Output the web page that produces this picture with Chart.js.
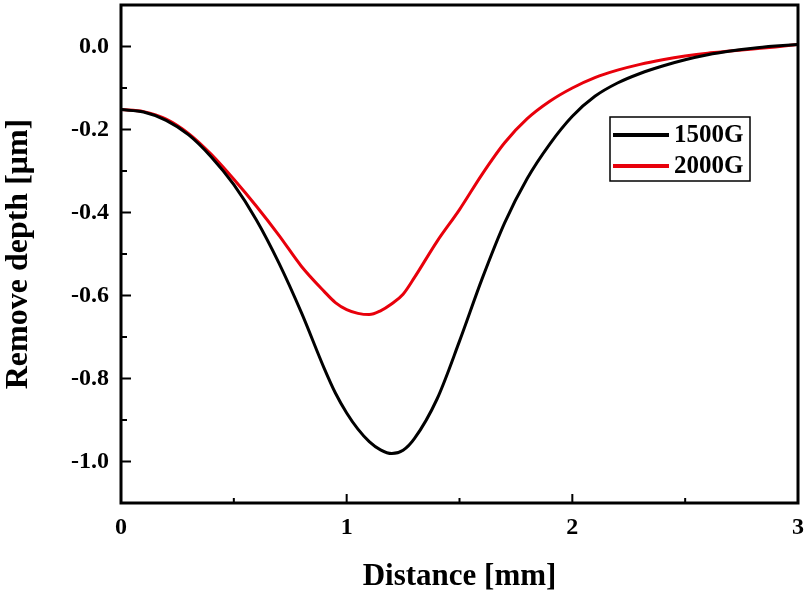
<!DOCTYPE html>
<html>
<head>
<meta charset="utf-8">
<script src="https://cdn.jsdelivr.net/npm/chart.js@4.4.1/dist/chart.umd.min.js"></script>
<style>
    body { margin: 0; background: #ffffff; }
    #wrap { width: 810px; height: 596px; position: relative; }
</style>
</head>
<body>
<div id="wrap"><canvas id="chart"></canvas></div>
<script>
// Data
const distance = [0, 0.1, 0.2, 0.3, 0.4, 0.5, 0.6, 0.7, 0.8, 0.9, 0.95, 1.0, 1.05, 1.1, 1.15, 1.2, 1.25, 1.3, 1.4, 1.5, 1.6, 1.7, 1.8, 1.9, 2.0, 2.1, 2.2, 2.3, 2.4, 2.5, 2.6, 2.7, 2.8, 2.9, 3.0];
const depth1500 = [-0.152, -0.158, -0.178, -0.213, -0.266, -0.333, -0.418, -0.522, -0.642, -0.775, -0.835, -0.883, -0.922, -0.952, -0.972, -0.981, -0.973, -0.945, -0.85, -0.71, -0.56, -0.425, -0.318, -0.235, -0.168, -0.12, -0.088, -0.065, -0.047, -0.032, -0.02, -0.011, -0.004, 0.001, 0.005];
const depth2000 = [-0.152, -0.157, -0.175, -0.21, -0.26, -0.32, -0.385, -0.455, -0.53, -0.59, -0.617, -0.634, -0.643, -0.646, -0.637, -0.62, -0.597, -0.557, -0.47, -0.393, -0.308, -0.232, -0.174, -0.132, -0.1, -0.075, -0.057, -0.043, -0.032, -0.023, -0.016, -0.011, -0.006, -0.001, 0.005];
const seriesNames = ['1500G', '2000G'];
const seriesColors = ['#000000', '#e8000b'];

const xTicks = [0, 1, 2, 3];
const xMinor = [0.5, 1.5, 2.5];
const yTicks = [0, -0.2, -0.4, -0.6, -0.8, -1.0];
const yMinor = [-0.1, -0.3, -0.5, -0.7, -0.9];

const serif = "'Liberation Serif', 'Times New Roman', serif";

function toPoints(ys) {
    return distance.map((x, i) => ({ x: x, y: ys[i] }));
}

// frame, inward ticks and legend box
const framePlugin = {
    id: 'frame',
    afterDraw(chart) {
        const ctx = chart.ctx;
        const a = chart.chartArea;
        const xs = chart.scales.x;
        const ys = chart.scales.y;
        ctx.save();
        ctx.strokeStyle = '#000';
        ctx.lineWidth = 3;
        ctx.strokeRect(a.left, a.top, a.right - a.left, a.bottom - a.top);

        ctx.lineWidth = 2;
        ctx.beginPath();
        xTicks.forEach(v => {
            const px = xs.getPixelForValue(v);
            ctx.moveTo(px, a.bottom); ctx.lineTo(px, a.bottom - 9);
        });
        xMinor.forEach(v => {
            const px = xs.getPixelForValue(v);
            ctx.moveTo(px, a.bottom); ctx.lineTo(px, a.bottom - 5);
        });
        yTicks.forEach(v => {
            const py = ys.getPixelForValue(v);
            ctx.moveTo(a.left, py); ctx.lineTo(a.left + 10, py);
        });
        yMinor.forEach(v => {
            const py = ys.getPixelForValue(v);
            ctx.moveTo(a.left, py); ctx.lineTo(a.left + 6, py);
        });
        ctx.stroke();

        // legend
        const lx = 610, ly = 117, lw = 140, lh = 64;
        ctx.fillStyle = '#fff';
        ctx.fillRect(lx, ly, lw, lh);
        ctx.lineWidth = 1.5;
        ctx.strokeRect(lx, ly, lw, lh);
        ctx.font = 'bold 25px ' + serif;
        ctx.textBaseline = 'middle';
        chart.data.datasets.forEach((ds, i) => {
            const cy = ly + 18 + i * 31;
            ctx.strokeStyle = ds.borderColor;
            ctx.lineWidth = 4;
            ctx.beginPath();
            ctx.moveTo(lx + 3, cy); ctx.lineTo(lx + 59, cy);
            ctx.stroke();
            ctx.fillStyle = '#000';
            ctx.fillText(ds.label, lx + 64, cy + 1);
        });
        ctx.restore();
    }
};

new Chart(document.getElementById('chart'), {
    type: 'line',
    data: {
        datasets: [
            { label: seriesNames[0], data: toPoints(depth1500), borderColor: seriesColors[0], borderWidth: 3, pointRadius: 0, cubicInterpolationMode: 'monotone' },
            { label: seriesNames[1], data: toPoints(depth2000), borderColor: seriesColors[1], borderWidth: 3, pointRadius: 0, cubicInterpolationMode: 'monotone' }
        ]
    },
    options: {
        responsive: true,
        maintainAspectRatio: false,
        animation: false,
        layout: { padding: { top: 5, right: 12, left: 0, bottom: 0 } },
        plugins: {
            legend: { display: false },
            tooltip: { enabled: false }
        },
        scales: {
            x: {
                type: 'linear',
                min: 0,
                max: 3,
                grid: { display: false },
                border: { display: false },
                afterBuildTicks: s => { s.ticks = xTicks.map(v => ({ value: v })); },
                afterFit: s => { s.height = 93; s.paddingLeft = 0; s.paddingRight = 0; },
                ticks: {
                    color: '#000',
                    padding: 2,
                    maxRotation: 0,
                    font: { family: serif, size: 24, weight: 'bold' },
                    callback: v => String(v)
                },
                title: {
                    display: true,
                    text: 'Distance [mm]',
                    color: '#000',
                    font: { family: serif, size: 31, weight: 'bold' },
                    padding: { top: 0, bottom: 0 }
                }
            },
            y: {
                type: 'linear',
                min: -1.1,
                max: 0.1,
                grid: { display: false },
                border: { display: false },
                afterBuildTicks: s => { s.ticks = yTicks.map(v => ({ value: v })); },
                afterFit: s => { s.width = 121; s.paddingTop = 0; s.paddingBottom = 0; },
                ticks: {
                    color: '#000',
                    padding: 4,
                    font: { family: serif, size: 24, weight: 'bold' },
                    callback: v => v.toFixed(1)
                },
                title: {
                    display: true,
                    text: 'Remove depth [μm]',
                    color: '#000',
                    font: { family: serif, size: 32, weight: 'bold' },
                    padding: { top: 0, bottom: 0 }
                }
            }
        }
    },
    plugins: [framePlugin]
});
</script>
</body>
</html>
